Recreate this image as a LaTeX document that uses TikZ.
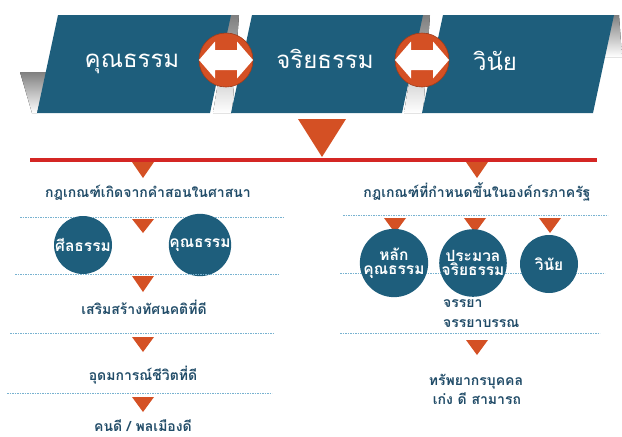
\documentclass[tikz,border=0pt]{standalone}
\usepackage{fontspec}
\newfontfamily\thai[Script=Thai]{Loma}
\definecolor{panel}{RGB}{30,94,124}
\definecolor{txt}{RGB}{33,76,104}
\definecolor{tri}{RGB}{212,80,36}
\definecolor{redline}{RGB}{212,38,36}
\definecolor{dashc}{RGB}{120,178,208}
\definecolor{shade}{RGB}{232,230,226}
\begin{document}
\begin{tikzpicture}[x=1pt,y=-1pt,
  paneltext/.style={text=white,font=\thai\fontsize{24}{28}\selectfont,anchor=base,inner sep=0pt},
  bodytext/.style={text=txt,font=\thai\bfseries\fontsize{14}{18}\selectfont,anchor=base,inner sep=0pt,align=center},
  leftbody/.style={text=txt,font=\thai\bfseries\fontsize{14}{18}\selectfont,anchor=base west,inner sep=0pt},
  ball/.style={circle,fill=panel,minimum size=58pt,inner sep=0pt,text=white,font=\thai\bfseries\fontsize{15.5}{17}\selectfont,align=center},
  redball/.style={circle,fill=tri,draw=tri!75!black,line width=0.6pt,minimum size=54pt,inner sep=0pt},
  dotline/.style={dashc,line width=0.7pt,dash pattern=on 1.6pt off 0.9pt}
]
\useasboundingbox (0,0) rectangle (622,437);
% gray ribbon back parts
\fill[shade] (20,72) -- (47,72) -- (37,113) -- (32,113) -- cycle;
\fill[shade] (229,15) -- (239,15) -- (232,113) -- (213,113) -- cycle;
\fill[shade] (420,15) -- (430,15) -- (423,113) -- (404,113) -- cycle;
\fill[shade] (612,15) -- (619,15) -- (622,57) -- (604,57) -- cycle;
% panels
\fill[panel] (58,15) -- (231,15) -- (210,113) -- (37,113) -- cycle;
\fill[panel] (252,15) -- (423,15) -- (402,113) -- (231,113) -- cycle;
\fill[panel] (443,15) -- (614,15) -- (593,113) -- (422,113) -- cycle;
\node[paneltext] (p1) at (132,67) {คุณธรรม};
\node[paneltext] (p2) at (325,68) {จริยธรรม};
\node[paneltext] (p3) at (495,70) {วินัย};
% double arrows in red circles
\node[redball] (c1) at (226,60) {};
\node[redball] (c2) at (422,60) {};
\foreach \c in {c1,c2}{
  \fill[white] ([xshift=-27pt]\c.center) -- ([xshift=-11pt,yshift=18.5pt]\c.center) -- ([xshift=-11pt,yshift=10pt]\c.center)
    -- ([xshift=11pt,yshift=10pt]\c.center) -- ([xshift=11pt,yshift=18.5pt]\c.center) -- ([xshift=27pt]\c.center)
    -- ([xshift=11pt,yshift=-18.5pt]\c.center) -- ([xshift=11pt,yshift=-10pt]\c.center)
    -- ([xshift=-11pt,yshift=-10pt]\c.center) -- ([xshift=-11pt,yshift=-18.5pt]\c.center) -- cycle;
}
% big triangle and red line
\fill[tri] (298,119) -- (346,119) -- (322,157) -- cycle;
\coordinate (rl) at (30,160);
\coordinate (rr) at (597,160);
\draw[redline,line width=4.5pt] (rl) -- (rr);
% left column
\fill[tri] (132,162) -- (154,162) -- (143,178) -- cycle;
\node[bodytext] (l1) at (148,197) {กฎเกณฑ์เกิดจากคำสอนในศาสนา};
\coordinate (d1a) at (20,217); \coordinate (d1b) at (283,217);
\draw[dotline] (d1a) -- (d1b);
\fill[tri] (132,219) -- (154,219) -- (143,233) -- cycle;
\node[ball] (b1) at (83,245) {ศีลธรรม};
\node[ball] (b2) at (200,245) {คุณธรรม};
\coordinate (d2a) at (15,274); \coordinate (d2b) at (278,274);
\draw[dotline] (d2a) -- (d2b);
\fill[tri] (132,276) -- (154,276) -- (143,292) -- cycle;
\node[bodytext] (l2) at (144,314) {เสริมสร้างทัศนคติที่ดี};
\coordinate (d3a) at (10,333); \coordinate (d3b) at (273,333);
\draw[dotline] (d3a) -- (d3b);
\fill[tri] (132,337) -- (154,337) -- (143,352) -- cycle;
\node[bodytext] (l3) at (143,380) {อุดมการณ์ชีวิตที่ดี};
\coordinate (d4a) at (7,393); \coordinate (d4b) at (272,393);
\draw[dotline] (d4a) -- (d4b);
\fill[tri] (132,397) -- (154,397) -- (143,412) -- cycle;
\node[bodytext] (l4) at (143,431) {คนดี / พลเมืองดี};
% right column
\fill[tri] (466,162) -- (488,162) -- (477,178) -- cycle;
\node[bodytext] (r1) at (477,197) {กฎเกณฑ์ที่กำหนดขึ้นในองค์กรภาครัฐ};
\coordinate (e1a) at (343,215); \coordinate (e1b) at (608,215);
\draw[dotline] (e1a) -- (e1b);
\fill[tri] (384,218) -- (406,218) -- (395,233) -- cycle;
\fill[tri] (464,218) -- (486,218) -- (475,233) -- cycle;
\fill[tri] (539,218) -- (561,218) -- (550,233) -- cycle;
\coordinate (e2a) at (340,273); \coordinate (e2b) at (605,273);
\draw[dotline] (e2a) -- (e2b);
\node[ball] (b3) at (394,263) {หลัก\\[-3pt]คุณธรรม};
\node[ball] (b4) at (473,263) {ประมวล\\[-3pt]จริยธรรม};
\node[ball] (b5) at (549,264) {วินัย};
\node[leftbody] (r2) at (443,307) {จรรยา};
\node[leftbody] (r3) at (443,327) {จรรยาบรรณ};
\coordinate (e3a) at (340,333); \coordinate (e3b) at (600,333);
\draw[dotline] (e3a) -- (e3b);
\fill[tri] (466,340) -- (488,340) -- (477,355) -- cycle;
\node[bodytext] (r4) at (476,385) {ทรัพยากรบุคคล};
\node[bodytext] (r5) at (477,404) {เก่ง ดี สามารถ};
\end{tikzpicture}
\end{document}
